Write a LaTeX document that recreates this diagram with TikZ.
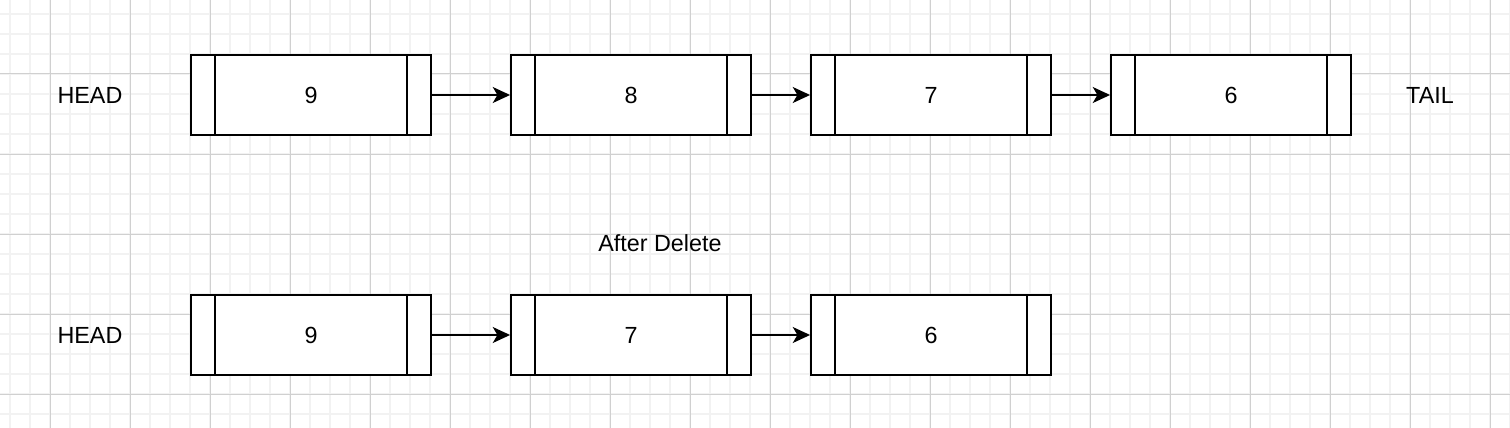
\documentclass[tikz,border=0pt]{standalone}
\usepackage{fontspec}
\setmainfont{Liberation Sans}
\usetikzlibrary{arrows.meta}

\tikzset{every picture/.style={line width=0.75pt}}
\tikzset{
	gridminor/.style={draw={rgb,255:red,242;green,242;blue,242},line width=0.9pt},
	gridmajor/.style={draw={rgb,255:red,208;green,208;blue,208},line width=0.75pt},
	cellbox/.style={draw,line width=1.4pt,fill=white,minimum width=180pt,minimum height=60pt,inner sep=0pt,
		path picture={
			\draw[line width=1.4pt] ([xshift=18pt]path picture bounding box.north west) -- ([xshift=18pt]path picture bounding box.south west);
			\draw[line width=1.4pt] ([xshift=-18pt]path picture bounding box.north east) -- ([xshift=-18pt]path picture bounding box.south east);
		}},
	lbl/.style={inner sep=0.75pt,font=\fontsize{17.5}{21}\selectfont},
	link/.style={line width=1.1pt,-{Stealth[length=13pt,width=12pt,inset=3.5pt]}}
}

\begin{document}
\begin{tikzpicture}[x=0.75pt,y=0.75pt,yscale=-1,xscale=1]
				\useasboundingbox (0,0) rectangle (1510,428);
				%Grid
				\fill[white] (0,0) rectangle (1510,428);
				\foreach \x in {10,30,...,1510} \draw[gridminor] (\x,0) -- (\x,428);
				\foreach \y in {14,34,...,428} \draw[gridminor] (0,\y) -- (1510,\y);
				\foreach \x in {50,130,...,1510} \draw[gridmajor] (\x,0) -- (\x,428);
				\foreach \y in {74,154,...,428} \draw[gridmajor] (0,\y) -- (1510,\y);
				
				%Top list
				\node [cellbox,lbl] (top9) at (311,95) {9};
				\node [cellbox,lbl] (top8) at (631,95) {8};
				\node [cellbox,lbl] (top7) at (931,95) {7};
				\node [cellbox,lbl] (top6) at (1231,95) {6};
				\draw [link] (top9) -- (top8);
				\draw [link] (top8) -- (top7);
				\draw [link] (top7) -- (top6);
				
				%Bottom list
				\node [cellbox,lbl] (bot9) at (311,335) {9};
				\node [cellbox,lbl] (bot7) at (631,335) {7};
				\node [cellbox,lbl] (bot6) at (931,335) {6};
				\draw [link] (bot9) -- (bot7);
				\draw [link] (bot7) -- (bot6);
				
				% Text Node
				\node [lbl] (headtop) at (90,95) {HEAD};
				% Text Node
				\node [lbl] (tailtop) at (1430,95) {TAIL};
				% Text Node
				\node [lbl] (afterdel) at (660,243) {After Delete};
				% Text Node
				\node [lbl] (headbot) at (90,335) {HEAD};
\end{tikzpicture}
\end{document}
